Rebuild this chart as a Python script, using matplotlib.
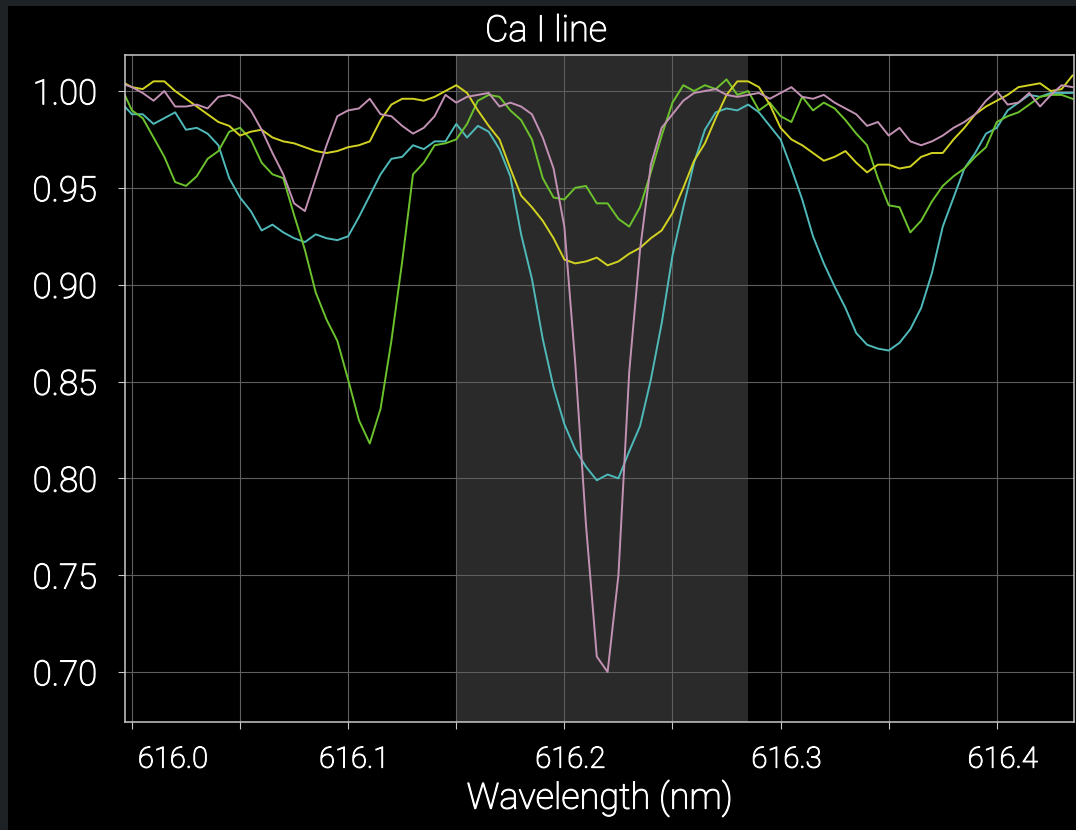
import matplotlib
matplotlib.use("Agg")
import matplotlib.pyplot as plt
import matplotlib.transforms as mtransforms
import matplotlib.patheffects as pe
from matplotlib.patches import Rectangle
from matplotlib.ticker import MultipleLocator
import numpy as np

# wavelength grid (nm), 0.005 nm step
wavelength = np.round(np.arange(615.995, 616.4351, 0.005), 3)

yellow_flux = [
    1.005, 1.002, 1.001, 1.005, 1.005, 1.000, 0.996, 0.992, 0.988, 0.984,
    0.982, 0.977, 0.979, 0.980, 0.976, 0.974, 0.973, 0.971, 0.969, 0.968,
    0.969, 0.971, 0.972, 0.974, 0.985, 0.993, 0.996, 0.996, 0.995, 0.997,
    1.000, 1.003, 0.999, 0.990, 0.982, 0.975, 0.960, 0.946, 0.940, 0.933,
    0.924, 0.913, 0.911, 0.912, 0.914, 0.910, 0.912, 0.916, 0.919, 0.924,
    0.928, 0.937, 0.950, 0.964, 0.973, 0.986, 0.998, 1.005, 1.005, 1.002,
    0.993, 0.981, 0.975, 0.972, 0.968, 0.964, 0.966, 0.969, 0.963, 0.958,
    0.962, 0.962, 0.960, 0.961, 0.966, 0.968, 0.968, 0.975, 0.981, 0.988,
    0.992, 0.995, 0.998, 1.002, 1.003, 1.004, 1.000, 1.001, 1.008,
]

cyan_flux = [
    0.994, 0.988, 0.988, 0.983, 0.986, 0.989, 0.980, 0.981, 0.978, 0.972,
    0.955, 0.945, 0.938, 0.928, 0.931, 0.927, 0.924, 0.922, 0.926, 0.924,
    0.923, 0.925, 0.935, 0.946, 0.957, 0.965, 0.966, 0.972, 0.970, 0.974,
    0.974, 0.983, 0.976, 0.982, 0.979, 0.970, 0.956, 0.926, 0.903, 0.872,
    0.847, 0.828, 0.815, 0.806, 0.799, 0.802, 0.800, 0.814, 0.827, 0.851,
    0.880, 0.915, 0.940, 0.963, 0.980, 0.989, 0.991, 0.990, 0.993, 0.989,
    0.982, 0.975, 0.960, 0.944, 0.925, 0.911, 0.899, 0.888, 0.875, 0.869,
    0.867, 0.866, 0.870, 0.877, 0.888, 0.906, 0.930, 0.945, 0.960, 0.968,
    0.978, 0.981, 0.990, 0.994, 0.998, 0.997, 0.999, 0.999, 0.999,
]

green_flux = [
    1.002, 0.990, 0.986, 0.976, 0.966, 0.953, 0.951, 0.956, 0.965, 0.969,
    0.979, 0.981, 0.975, 0.963, 0.957, 0.955, 0.936, 0.918, 0.896, 0.882,
    0.871, 0.851, 0.830, 0.818, 0.836, 0.871, 0.912, 0.957, 0.963, 0.972,
    0.973, 0.975, 0.983, 0.995, 0.998, 0.997, 0.990, 0.985, 0.975, 0.955,
    0.945, 0.944, 0.950, 0.951, 0.942, 0.942, 0.934, 0.930, 0.940, 0.958,
    0.977, 0.994, 1.003, 1.000, 1.003, 1.001, 1.006, 0.998, 1.000, 0.990,
    0.994, 0.987, 0.984, 0.997, 0.990, 0.994, 0.991, 0.985, 0.978, 0.972,
    0.955, 0.941, 0.940, 0.927, 0.933, 0.943, 0.951, 0.956, 0.960, 0.966,
    0.971, 0.984, 0.987, 0.989, 0.993, 0.997, 0.998, 0.998, 0.996,
]

pink_flux = [
    1.004, 1.002, 0.999, 0.995, 1.000, 0.992, 0.992, 0.993, 0.991, 0.997,
    0.998, 0.996, 0.990, 0.980, 0.968, 0.957, 0.942, 0.938, 0.955, 0.972,
    0.987, 0.990, 0.991, 0.996, 0.988, 0.987, 0.982, 0.978, 0.981, 0.987,
    0.998, 0.994, 0.997, 0.998, 0.999, 0.992, 0.994, 0.992, 0.988, 0.976,
    0.960, 0.930, 0.860, 0.776, 0.708, 0.700, 0.750, 0.855, 0.918, 0.962,
    0.981, 0.988, 0.995, 0.999, 1.000, 1.001, 0.998, 0.997, 0.998, 0.999,
    0.996, 0.999, 1.002, 0.997, 0.996, 0.998, 0.994, 0.991, 0.988, 0.982,
    0.984, 0.977, 0.981, 0.974, 0.972, 0.974, 0.977, 0.981, 0.984, 0.988,
    0.995, 1.000, 0.993, 0.994, 0.999, 0.992, 0.998, 1.003, 1.002,
]

band = (616.15, 616.285)
x_ticks = [616.0, 616.1, 616.2, 616.3, 616.4]
y_ticks = [0.70, 0.75, 0.80, 0.85, 0.90, 0.95, 1.00]

plt.rcParams["font.family"] = ["Roboto", "DejaVu Sans"]
plt.rcParams["font.weight"] = "light"
plt.rcParams["axes.titleweight"] = "light"
plt.rcParams["axes.labelweight"] = "light"

# the thin cut gets a hairline outline so it reads like a light weight
thicken = [pe.withStroke(linewidth=0.8, foreground="white")]

fig = plt.figure(figsize=(10.76, 8.3), dpi=100, facecolor="#1e2224")
# black canvas leaving a thin strip on the left and top
fig.patches.append(Rectangle((8 / 1076, 0), 1, 824 / 830, transform=fig.transFigure,
                             facecolor="black", edgecolor="none", zorder=-10))

ax = fig.add_axes([125 / 1076, 108 / 830, 949 / 1076, 667 / 830])
ax.set_facecolor("black")

ax.axvspan(band[0], band[1], color="#2a2a2a", zorder=0.2, lw=0)

ax.plot(wavelength, cyan_flux, color="#4fb9b9", lw=1.4, zorder=2)
ax.plot(wavelength, green_flux, color="#6cc22c", lw=1.4, zorder=2)
ax.plot(wavelength, yellow_flux, color="#d2d222", lw=1.4, zorder=2)
ax.plot(wavelength, pink_flux, color="#c291b4", lw=1.4, zorder=2)

ax.set_xlim(615.9968, 616.4357)
ax.set_ylim(0.6742, 1.0186)

ax.xaxis.set_major_locator(MultipleLocator(0.1))
ax.xaxis.set_minor_locator(MultipleLocator(0.05))
ax.set_xticks(x_ticks)
ax.set_xticklabels([f"{t:.1f}" for t in x_ticks])
ax.set_yticks(y_ticks)
ax.set_yticklabels([f"{t:.2f}" for t in y_ticks])

ax.grid(True, which="both", axis="x", color="#5e5e5e", lw=0.8)
ax.grid(True, which="major", axis="y", color="#5e5e5e", lw=0.8)

ax.tick_params(axis="x", which="both", direction="out", length=5, width=0.8,
               color="#c8c8c8", labelcolor="white", labelsize=21, pad=12)
ax.tick_params(axis="y", which="major", direction="out", length=5, width=0.8,
               color="#c8c8c8", labelcolor="white", labelsize=25, pad=15)

for side in ax.spines.values():
    side.set_color("#c8c8c8")
    side.set_linewidth(1.1)

# nudge the x labels a bit right; keep the first one inside the frame
shift = mtransforms.ScaledTranslation(6 / 100, 0, fig.dpi_scale_trans)
for i, lab in enumerate(ax.get_xticklabels()):
    lab.set_transform(lab.get_transform() + shift)
    lab.set_path_effects(thicken)
    if i == 0:
        lab.set_horizontalalignment("left")
for lab in ax.get_yticklabels():
    lab.set_path_effects(thicken)

xl = ax.set_xlabel("Wavelength (nm)", color="white", fontsize=26, labelpad=4)
xl.set_path_effects(thicken)
tt = ax.set_title("Ca I line", color="white", fontsize=26, x=0.4436, pad=10)
tt.set_path_effects(thicken)

fig.savefig("out.png", dpi=100, facecolor=fig.get_facecolor())
